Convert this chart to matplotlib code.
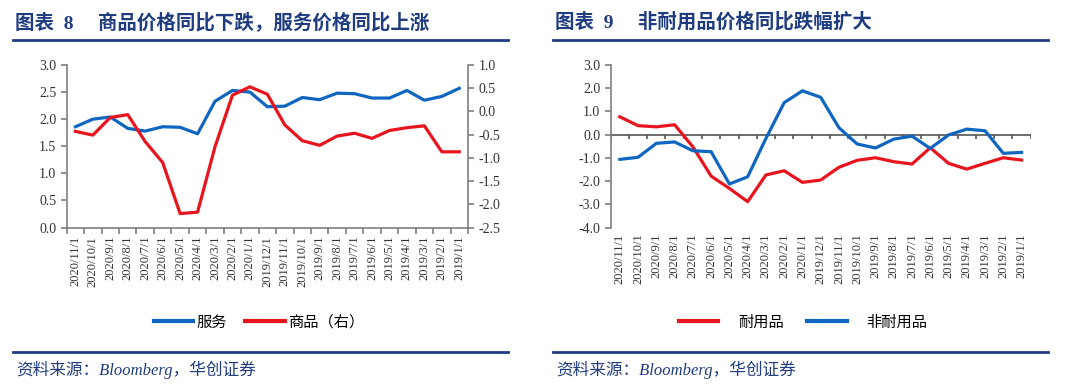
import numpy as np
import matplotlib.pyplot as plt
from matplotlib.lines import Line2D

plt.rcParams['font.family'] = ['Liberation Serif', 'Noto Sans CJK SC']
plt.rcParams['axes.unicode_minus'] = False

# Data
dates = ["2020/11/1", "2020/10/1", "2020/9/1", "2020/8/1", "2020/7/1", "2020/6/1",
         "2020/5/1", "2020/4/1", "2020/3/1", "2020/2/1", "2020/1/1", "2019/12/1",
         "2019/11/1", "2019/10/1", "2019/9/1", "2019/8/1", "2019/7/1", "2019/6/1",
         "2019/5/1", "2019/4/1", "2019/3/1", "2019/2/1", "2019/1/1"]

services = [1.86, 2.00, 2.04, 1.83, 1.78, 1.86, 1.85, 1.73, 2.33, 2.53, 2.50, 2.23,
            2.24, 2.40, 2.36, 2.48, 2.47, 2.39, 2.39, 2.53, 2.35, 2.42, 2.57]
goods = [-0.43, -0.51, -0.13, -0.07, -0.65, -1.10, -2.20, -2.17, -0.76, 0.35, 0.53, 0.37,
         -0.29, -0.63, -0.73, -0.53, -0.47, -0.58, -0.41, -0.35, -0.31, -0.87, -0.87]

durables = [0.77, 0.39, 0.34, 0.43, -0.52, -1.78, -2.31, -2.88, -1.73, -1.55, -2.05, -1.95,
            -1.40, -1.10, -0.99, -1.16, -1.26, -0.56, -1.23, -1.48, -1.23, -0.99, -1.09]
nondurables = [-1.06, -0.97, -0.37, -0.31, -0.69, -0.73, -2.12, -1.81, -0.16, 1.38, 1.89, 1.61,
               0.30, -0.40, -0.57, -0.19, -0.06, -0.59, -0.01, 0.24, 0.17, -0.80, -0.76]

BLUE = "#0F66C0"
RED = "#E8141E"
NAVY = "#1F3C80"
GRAY = "#7F7F7F"
TXT = "#333333"
cjk = ['Noto Sans CJK SC', 'DejaVu Sans']
mixed = ['Liberation Serif', 'Noto Sans CJK SC']

W, H = 1080, 392
fig = plt.figure(figsize=(W / 100, H / 100), dpi=100)

def fx(px):
    return px / W

def fy(py):
    return 1 - py / H

x = np.arange(len(dates))


def style_axis(ax):
    for s in ["top", "right", "left", "bottom"]:
        ax.spines[s].set_color(GRAY)
        ax.spines[s].set_linewidth(1.2)
    ax.tick_params(colors=GRAY, labelcolor=TXT, labelsize=10, length=4, width=1.2)
    ax.tick_params(axis="x", labelsize=9)


# ---- left panel ----
ax1 = fig.add_axes([fx(66.7), fy(227.5), fx(468 - 66.7), fy(65) - fy(227.5)])
ax1.plot(x, services, color=BLUE, lw=2.3)
ax1.set_ylim(0, 3.0)
ax1.set_yticks(np.arange(0, 3.01, 0.5))
ax1.yaxis.set_major_formatter(plt.FormatStrFormatter("%.1f"))
ax1.set_xlim(-0.5, len(dates) - 0.5)
ax1.set_xticks(x)
ax1.set_xticklabels(dates, rotation=90)
ax1.set_xticks(np.arange(len(dates) + 1) - 0.5, minor=True)
style_axis(ax1)
ax1.tick_params(axis="x", which="major", length=0, pad=6)
ax1.tick_params(axis="x", which="minor", length=4, color=GRAY, width=1.2)
ax1.spines["top"].set_visible(False)
ax1.spines["right"].set_visible(False)

ax2 = ax1.twinx()
ax2.plot(x, goods, color=RED, lw=2.3)
ax2.set_ylim(-2.5, 1.0)
ax2.set_yticks(np.arange(-2.5, 1.01, 0.5))
ax2.yaxis.set_major_formatter(plt.FormatStrFormatter("%.1f"))
style_axis(ax2)
ax2.spines["top"].set_visible(False)
ax2.spines["left"].set_visible(False)
ax2.spines["bottom"].set_visible(False)

h1 = [Line2D([], [], color=BLUE, lw=3), Line2D([], [], color=RED, lw=3)]
fig.legend(h1, ["服务", "商品（右）"], loc="center", bbox_to_anchor=(fx(259), fy(322)),
           ncol=2, frameon=False, prop={"family": cjk, "size": 11},
           handlelength=2.6, handletextpad=0.2, columnspacing=1.2)

# ---- right panel ----
ax3 = fig.add_axes([fx(610.7), fy(227.7), fx(1030.7 - 610.7), fy(65) - fy(227.7)])
ax3.plot(x, durables, color=RED, lw=2.3)
ax3.plot(x, nondurables, color=BLUE, lw=2.3)
ax3.set_ylim(-4.0, 3.0)
ax3.set_yticks(np.arange(-4, 3.01, 1.0))
ax3.yaxis.set_major_formatter(plt.FormatStrFormatter("%.1f"))
ax3.set_xlim(-0.5, len(dates) - 0.5)
ax3.set_xticks(x)
ax3.set_xticklabels(dates, rotation=90)
style_axis(ax3)
ax3.tick_params(axis="x", length=0, pad=4)
for s in ["top", "right", "bottom"]:
    ax3.spines[s].set_visible(False)
ax3.axhline(0, color="#555555", lw=1.2, zorder=1)
ax3.vlines(np.arange(len(dates) + 1) - 0.5, -0.17, 0, color="#555555", lw=1.2, zorder=1)

h2 = [Line2D([], [], color=RED, lw=3), Line2D([], [], color=BLUE, lw=3)]
fig.legend(h2, ["耐用品", "非耐用品"], loc="center", bbox_to_anchor=(fx(803), fy(322)),
           ncol=2, frameon=False, prop={"family": cjk, "size": 11},
           handlelength=2.6, handletextpad=1.3, columnspacing=1.5)

# ---- titles, rules, sources ----
for x0, x1, title in [(13, 508, "图表  8     商品价格同比下跌，服务价格同比上涨"),
                      (553, 1048, "图表  9     非耐用品价格同比跌幅扩大")]:
    fig.text(fx(x0 + 2), fy(22), title, color=NAVY, fontsize=14, fontweight="bold",
             family=mixed, va="center", ha="left")
    fig.add_artist(Line2D([fx(x0), fx(x1)], [fy(40), fy(40)], color=NAVY, lw=2))
    fig.add_artist(Line2D([fx(x0), fx(x1)], [fy(352), fy(352)], color=NAVY, lw=2))
    fig.text(fx(x0 + 3), fy(370), "资料来源：Bloomberg，华创证券", color=NAVY,
             fontsize=12, style="italic", family=mixed,
             va="center", ha="left")

fig.savefig("out.png", dpi=100)
